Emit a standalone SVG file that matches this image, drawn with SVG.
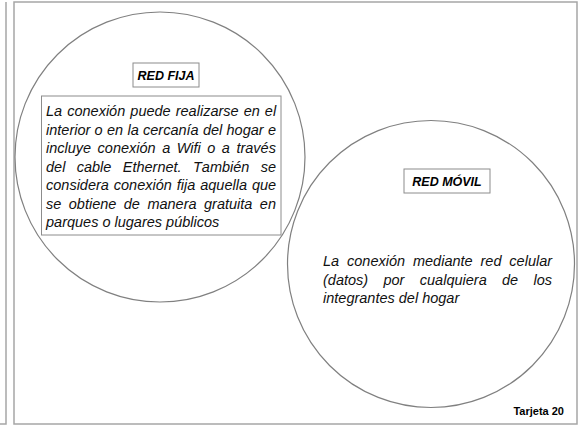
<svg xmlns="http://www.w3.org/2000/svg" width="584" height="426" viewBox="0 0 584 426">
  <style>
    .frame { fill: none; stroke: #a6a6a6; stroke-width: 1.5; }
    .circle { fill: none; stroke: #808080; stroke-width: 1.2; }
    .box { fill: #ffffff; stroke: #8c8c8c; stroke-width: 1; }
    .title { font-family: "Liberation Sans", Arial, sans-serif; font-size: 12.5px; font-weight: bold; font-style: italic; fill: #000; text-anchor: middle; }
    .body { font-family: "Liberation Sans", Arial, sans-serif; font-size: 14.5px; font-style: italic; fill: #111; font-kerning: none; }
    .card { font-family: "Liberation Sans", Arial, sans-serif; font-size: 11px; font-weight: bold; fill: #000; text-anchor: end; }
  </style>
  <rect width="584" height="426" fill="#ffffff"/>
  <path class="frame" d="M0,424 H6 V2"/>
  <rect class="frame" x="14" y="2" width="563" height="422"/>

  <g id="connectors"></g>

  <g id="red-fija">
    <circle class="circle" cx="160" cy="157" r="145"/>
    <rect class="box" x="133" y="63" width="66" height="24"/>
    <text class="title" x="166" y="80">RED FIJA</text>
    <rect class="box" x="41.5" y="96" width="239.5" height="139"/>
    <text class="body" x="46" y="116" word-spacing="1.05">La conexión puede realizarse en el</text>
    <text class="body" x="46" y="134.5" word-spacing="0.27">interior o en la cercanía del hogar e</text>
    <text class="body" x="46" y="153" word-spacing="2.45">incluye conexión a Wifi o a través</text>
    <text class="body" x="46" y="171.5" word-spacing="7.34">del cable Ethernet. También se</text>
    <text class="body" x="46" y="190" word-spacing="0.9">considera conexión fija aquella que</text>
    <text class="body" x="46" y="208.5" word-spacing="3.43">se obtiene de manera gratuita en</text>
    <text class="body" x="46" y="227">parques o lugares públicos</text>
  </g>

  <g id="red-movil">
    <circle class="circle" cx="431" cy="264" r="143.5"/>
    <rect class="box" x="404" y="169" width="86" height="24"/>
    <text class="title" x="447" y="186">RED MÓVIL</text>
    <text class="body" x="323" y="266" word-spacing="3.87">La conexión mediante red celular</text>
    <text class="body" x="323" y="284.5" word-spacing="11.32">(datos) por cualquiera de los</text>
    <text class="body" x="323" y="303">integrantes del hogar</text>
  </g>

  <g id="tarjeta">
    <text class="card" x="564" y="415">Tarjeta 20</text>
  </g>
</svg>
